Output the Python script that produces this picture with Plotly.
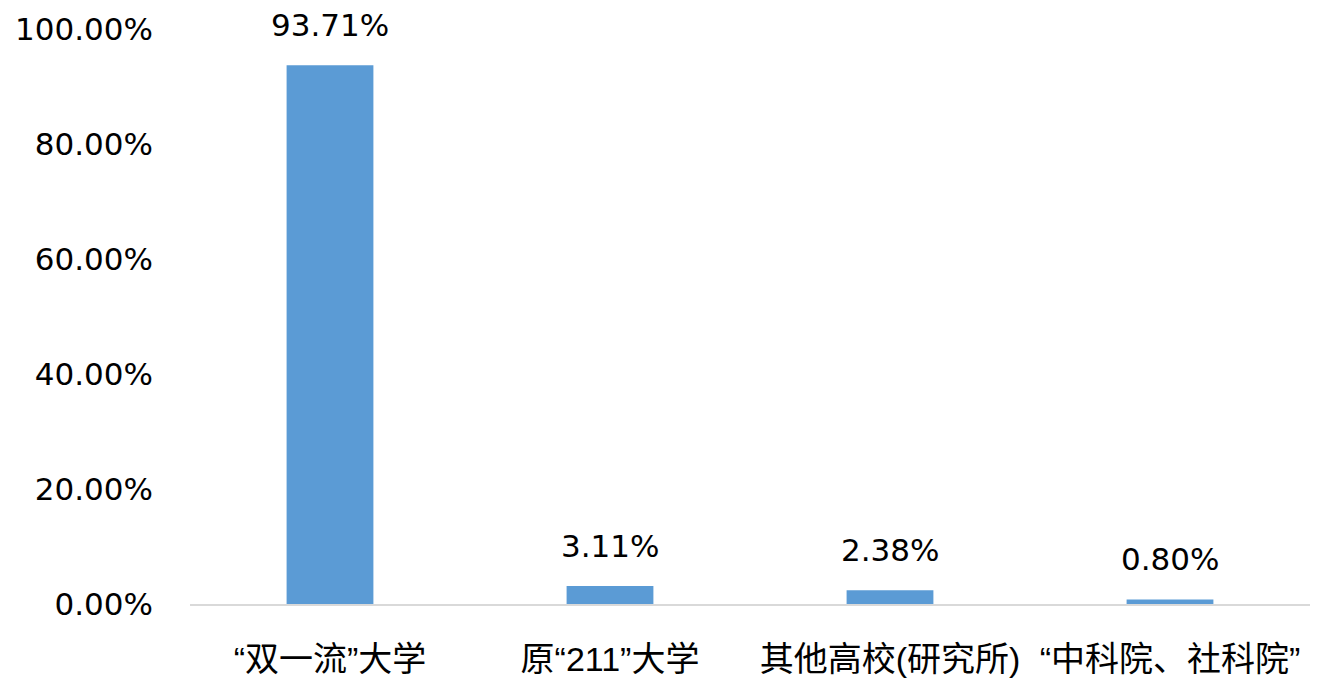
import plotly.graph_objects as go

# categories and shares (%)
categories = ["“双一流”大学", "原“211”大学", "其他高校(研究所)", "“中科院、社科院”"]
shares = [93.71, 3.11, 2.38, 0.80]
tick_vals = [0, 20, 40, 60, 80, 100]
tick_text = ["0.00%", "20.00%", "40.00%", "60.00%", "80.00%", "100.00%"]

num_font = "DejaVu Sans, Liberation Sans, sans-serif"
cat_font = "Liberation Sans, Noto Sans CJK SC, sans-serif"

bars = go.Bar(
    x=categories,
    y=shares,
    marker=dict(color="#5B9BD5", line=dict(width=0)),
    width=0.31,
)

fig = go.Figure(data=[bars])

# value labels above the bars
for cat, val in zip(categories, shares):
    fig.add_annotation(
        x=cat,
        y=val,
        text=f"{val:.2f}%",
        showarrow=False,
        yanchor="middle",
        yshift=40,
        font=dict(size=31, color="#000000", family=num_font),
    )

fig.update_layout(
    width=1334,
    height=688,
    margin=dict(l=182, r=32, t=21, b=92),
    paper_bgcolor="white",
    plot_bgcolor="white",
    showlegend=False,
    font=dict(family=cat_font, color="#000000"),
    xaxis=dict(
        showline=True,
        linecolor="#d9d9d9",
        linewidth=1.5,
        showgrid=False,
        ticks="",
        automargin=False,
        tickfont=dict(size=34, family=cat_font),
        ticklabelstandoff=24,
    ),
    yaxis=dict(
        range=[0, 100],
        tickvals=tick_vals,
        ticktext=tick_text,
        showgrid=False,
        zeroline=False,
        showline=False,
        ticks="",
        automargin=False,
        tickfont=dict(size=31, family=num_font),
        ticklabelstandoff=36,
    ),
)

fig.write_html("out.html")
